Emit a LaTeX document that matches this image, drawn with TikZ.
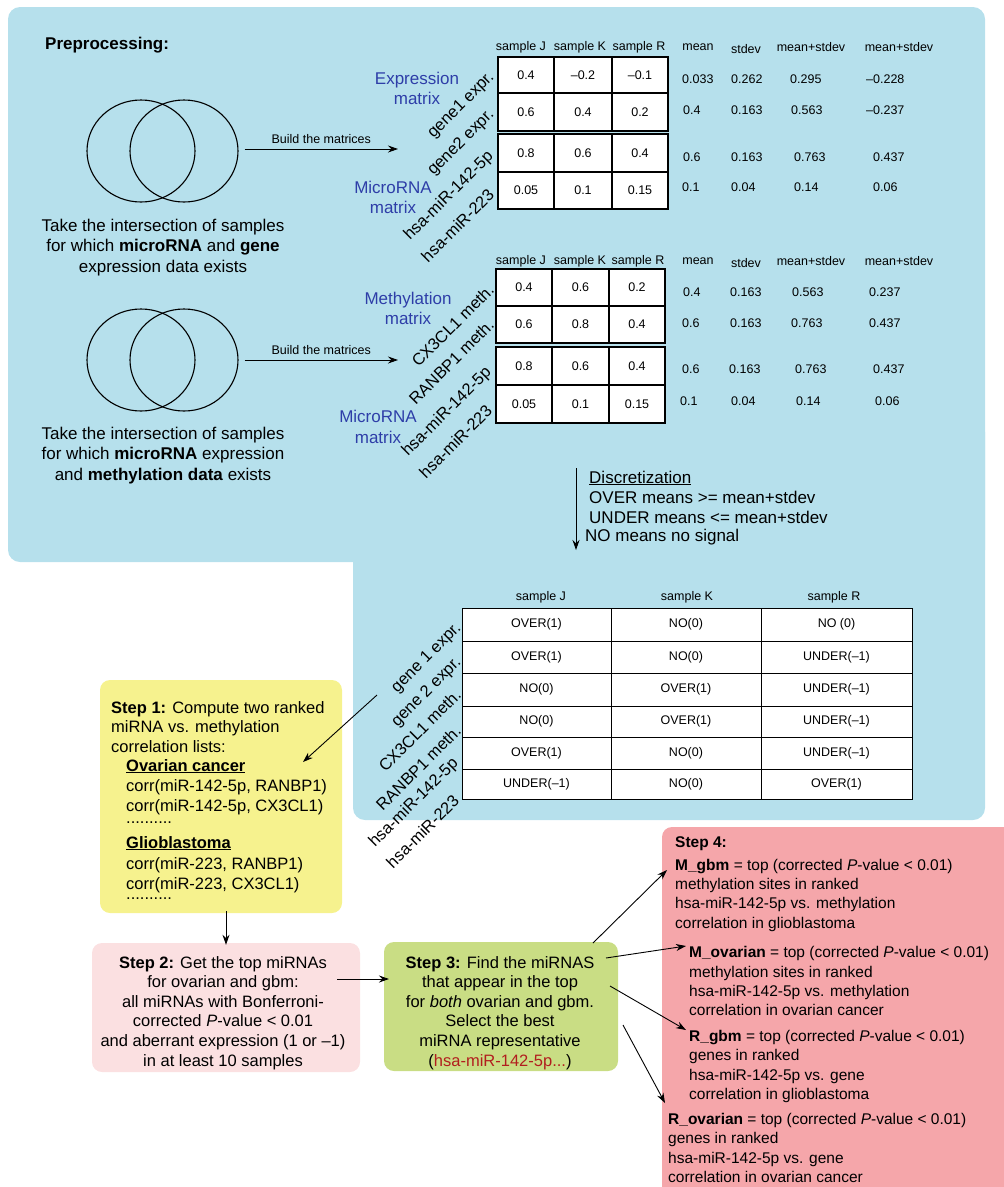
\documentclass[tikz,border=0pt]{standalone}
\usepackage{fontspec}
\setmainfont{Liberation Sans}
\usetikzlibrary{arrows.meta,shapes.geometric}
\definecolor{bgblue}{RGB}{182,224,236}
\definecolor{s1yellow}{RGB}{246,242,142}
\definecolor{s2pink}{RGB}{251,224,225}
\definecolor{s3green}{RGB}{201,221,132}
\definecolor{s4pink}{RGB}{245,166,170}
\definecolor{lblblue}{RGB}{46,62,168}
\definecolor{redtxt}{RGB}{178,30,30}
\newcommand\setcols[4]{\def\xa{#1}\def\xb{#2}\def\xc{#3}\def\xd{#4}}
\newcommand\mrow[7]{%
  \filldraw[fill=white,line width=#7] (\xa,#2) rectangle (\xb,#3) (\xb,#2) rectangle (\xc,#3) (\xc,#2) rectangle (\xd,#3);
  \node[cellt] (#1a) at ({(\xa+\xb)/2},{(#2+#3)/2}) {#4};
  \node[cellt] (#1b) at ({(\xb+\xc)/2},{(#2+#3)/2}) {#5};
  \node[cellt] (#1c) at ({(\xc+\xd)/2},{(#2+#3)/2}) {#6};}
\newcommand\st[4]{\node[cellt,anchor=west] (#1) at (#2,#3) {#4};}
\begin{document}
\begin{tikzpicture}[x=1pt,y=-1pt,
  arr/.style={-{Stealth[length=10pt,width=7pt]},line width=0.9pt},
  venn/.style={draw,ellipse,line width=1.1pt,minimum width=108pt,minimum height=102pt,inner sep=0pt},
  big/.style={inner sep=0pt,font=\fontsize{17pt}{20.5pt}\selectfont},
  mid/.style={inner sep=0pt,font=\fontsize{16.5pt}{19.6pt}\selectfont},
  sfour/.style={inner sep=0pt,anchor=base west,font=\fontsize{15.5pt}{19.5pt}\selectfont},
  cellt/.style={inner sep=0pt,font=\fontsize{12.5pt}{15pt}\selectfont},
  rot/.style={inner sep=0pt,rotate=45,anchor=east,font=\fontsize{16.5pt}{19pt}\selectfont},
  bl/.style={big,text=lblblue,align=center},
  sbox/.style={rounded corners=10pt,inner sep=0pt}]
\useasboundingbox (0,0) rectangle (1004,1187);
% backgrounds
\fill[bgblue,rounded corners=12pt] (8,7) rectangle (985,562);
\fill[bgblue,rounded corners=12pt] (353,420) rectangle (985,820);
\fill[s4pink,rounded corners=10pt] (662,827) rectangle (1020,1200);

\node[inner sep=0pt,anchor=west,font=\bfseries\fontsize{17pt}{20pt}\selectfont] (pre) at (45,45) {Preprocessing:};

% Venn 1
\node[venn] (v1a) at (141,151) {};
\node[venn] (v1b) at (184,151) {};
\coordinate (m1in) at (398,149);
\draw[arr] ([shift={(6,-2)}]v1b.east) -- (m1in) node[midway,above=5pt,cellt] (b1) {Build the matrices};
\node[big,align=center] (t1) at (163,247.5) {Take the intersection of samples\\for which \textbf{microRNA} and \textbf{gene}\\expression data exists};

% Venn 2
\node[venn] (v2a) at (141,360) {};
\node[venn] (v2b) at (184,360) {};
\coordinate (m2in) at (398,360);
\draw[arr] ([shift={(6,0)}]v2b.east) -- (m2in) node[midway,above=5pt,cellt] (b2) {Build the matrices};
\node[big,align=center] (t2) at (163,455.5) {Take the intersection of samples\\for which \textbf{microRNA} expression\\and \textbf{methylation data} exists};

% blue labels
\node[bl] (lbe) at (417,88.5) {Expression\\matrix};
\node[bl] (lbm1) at (393,197.5) {MicroRNA\\matrix};
\node[bl] (lbme) at (408,308.5) {Methylation\\matrix};
\node[bl] (lbm2) at (378,427) {MicroRNA\\matrix};

% matrix 1
\setcols{498}{554}{612}{668}
\mrow{ma1}{57}{93}{0.4}{\textendash0.2}{\textendash0.1}{1.3pt}
\mrow{ma2}{93}{131}{0.6}{0.4}{0.2}{1.3pt}
\mrow{ma3}{134}{172}{0.8}{0.6}{0.4}{1.3pt}
\mrow{ma4}{172}{209}{0.05}{0.1}{0.15}{1.3pt}
\node[cellt] (h1a) at (521,47) {sample J};
\node[cellt] (h1b) at (580,47) {sample K};
\node[cellt] (h1c) at (639,47) {sample R};
\node[cellt] (h1d) at (698,47) {mean};
\node[cellt] (h1e) at (746,49) {stdev};
\node[cellt] (h1f) at (811,47) {mean+stdev};
\node[cellt] (h1g) at (899,47) {mean+stdev};
\st{s11}{682}{79}{0.033}\st{s12}{731}{79}{0.262}\st{s13}{790}{79}{0.295}\st{s14}{866}{79}{\textendash0.228}
\st{s21}{683}{110}{0.4}\st{s22}{731}{110}{0.163}\st{s23}{791}{110}{0.563}\st{s24}{866}{110}{\textendash0.237}
\st{s31}{683}{157}{0.6}\st{s32}{731}{157}{0.163}\st{s33}{794}{157}{0.763}\st{s34}{873}{157}{0.437}
\st{s41}{682}{187}{0.1}\st{s42}{731}{187}{0.04}\st{s43}{794}{187}{0.14}\st{s44}{873}{187}{0.06}
\node[rot] (r1a) at (492,75) {gene1 expr.};
\node[rot] (r1b) at (492,112) {gene2 expr.};
\node[rot] (r1c) at (491,154) {hsa-miR-142-5p};
\node[rot] (r1d) at (491,192) {hsa-miR-223};

% matrix 2
\setcols{496}{552}{609}{665}
\mrow{mb1}{269}{306}{0.4}{0.6}{0.2}{1.3pt}
\mrow{mb2}{306}{343}{0.6}{0.8}{0.4}{1.3pt}
\mrow{mb3}{347}{385}{0.8}{0.6}{0.4}{1.3pt}
\mrow{mb4}{385}{423}{0.05}{0.1}{0.15}{1.3pt}
\node[cellt] (h2a) at (521,261) {sample J};
\node[cellt] (h2b) at (580,261) {sample K};
\node[cellt] (h2c) at (638,261) {sample R};
\node[cellt] (h2d) at (698,261) {mean};
\node[cellt] (h2e) at (746,263) {stdev};
\node[cellt] (h2f) at (811,261) {mean+stdev};
\node[cellt] (h2g) at (899,261) {mean+stdev};
\st{u11}{683}{292}{0.4}\st{u12}{730}{292}{0.163}\st{u13}{792}{292}{0.563}\st{u14}{869}{292}{0.237}
\st{u21}{682}{323}{0.6}\st{u22}{730}{323}{0.163}\st{u23}{791}{323}{0.763}\st{u24}{869}{323}{0.437}
\st{u31}{682}{369}{0.6}\st{u32}{729}{369}{0.163}\st{u33}{795}{369}{0.763}\st{u34}{873}{369}{0.437}
\st{u41}{680}{401}{0.1}\st{u42}{731}{401}{0.04}\st{u43}{796}{401}{0.14}\st{u44}{875}{401}{0.06}
\node[rot] (r2a) at (491,287) {CX3CL1 meth.};
\node[rot] (r2b) at (491,322) {RANBP1 meth.};
\node[rot] (r2c) at (489,370) {hsa-miR-142-5p};
\node[rot] (r2d) at (489,408) {hsa-miR-223};

% discretization
\coordinate (ds) at (576,468);
\coordinate (de) at (576,550);
\draw[arr] (ds) -- (de);
\node[big,anchor=west] (d1) at (589,478) {\underline{Discretization}};
\node[big,anchor=west] (d2) at (589,497) {OVER means >= mean+stdev};
\node[big,anchor=west] (d3) at (589,517) {UNDER means <= mean+stdev};
\node[big,anchor=west] (d4) at (585,537) {NO means no signal};

% discretized table
\setcols{462}{611}{761}{912}
\node[cellt] (h3a) at (541,597) {sample J};
\node[cellt] (h3b) at (687,597) {sample K};
\node[cellt] (h3c) at (834,597) {sample R};
\mrow{tc1}{608}{641}{OVER(1)}{NO(0)}{NO (0)}{1pt}
\mrow{tc2}{641}{673}{OVER(1)}{NO(0)}{UNDER(\textendash1)}{1pt}
\mrow{tc3}{673}{706}{NO(0)}{OVER(1)}{UNDER(\textendash1)}{1pt}
\mrow{tc4}{706}{737}{NO(0)}{OVER(1)}{UNDER(\textendash1)}{1pt}
\mrow{tc5}{737}{769}{OVER(1)}{NO(0)}{UNDER(\textendash1)}{1pt}
\mrow{tc6}{769}{799}{UNDER(\textendash1)}{NO(0)}{OVER(1)}{1pt}
\node[rot] (r3a) at (459,626) {gene 1 expr.};
\node[rot] (r3b) at (459,660) {gene 2 expr.};
\node[rot] (r3c) at (458,692) {CX3CL1 meth.};
\node[rot] (r3d) at (458,728) {RANBP1 meth.};
\node[rot] (r3e) at (456,761) {hsa-miR-142-5p};
\node[rot] (r3f) at (456,798) {hsa-miR-223};

% Step 1
\node[sbox,fill=s1yellow,minimum width=242pt,minimum height=233pt] (s1) at (221,796.5) {};
\node[mid,anchor=base west] (s1l1) at (111,713) {\textbf{Step 1:} Compute two ranked};
\node[mid,anchor=base west] (s1l2) at (111,732) {miRNA vs. methylation};
\node[mid,anchor=base west] (s1l3) at (111,752) {correlation lists:};
\node[mid,anchor=base west] (s1l4) at (126,771) {\underline{\textbf{Ovarian cancer}}};
\node[mid,anchor=base west] (s1l5) at (126,791) {corr(miR-142-5p, RANBP1)};
\node[mid,anchor=base west] (s1l6) at (126,811) {corr(miR-142-5p, CX3CL1)};
\node[mid,anchor=base west] (s1l7) at (126,823) {..........};
\node[mid,anchor=base west] (s1l8) at (126,848) {\underline{\textbf{Glioblastoma}}};
\node[mid,anchor=base west] (s1l9) at (126,869) {corr(miR-223, RANBP1)};
\node[mid,anchor=base west] (s1l10) at (126,889) {corr(miR-223, CX3CL1)};
\node[mid,anchor=base west] (s1l11) at (126,899) {..........};
\coordinate (g1s) at (377,695);
\coordinate (g1e) at (303,762);
\draw[arr] (g1s) -- (g1e);

% Step 2
\node[sbox,fill=s2pink,minimum width=268pt,minimum height=129pt] (s2) at (226,1007.5) {};
\node[mid,align=center,anchor=base] (s2t) at (223,1066) {\textbf{Step 2:} Get the top miRNAs\\for ovarian and gbm:\\all miRNAs with Bonferroni-\\corrected \textit{P}-value < 0.01\\and aberrant expression (1 or \textendash1)\\in at least 10 samples};
\draw[arr] ([yshift=2pt]s1.south -| s2.north) -- ([yshift=-2pt]s2.north);

% Step 3
\node[sbox,fill=s3green,minimum width=234pt,minimum height=129pt] (s3) at (501,1006.5) {};
\node[mid,align=center,anchor=base] (s3t) at (500,1066) {\textbf{Step 3:} Find the miRNAS\\that appear in the top\\for \textit{both} ovarian and gbm.\\Select the best\\miRNA representative\\(\textcolor{redtxt}{hsa-miR-142-5p...})};
\coordinate (a23s) at (337,979);
\coordinate (a23e) at (389,979);
\draw[arr] (a23s) -- (a23e);

% Step 4
\node[sfour] (s4h) at (675,847) {\textbf{Step 4:}};
\node[sfour] (s4a1) at (675,870) {\textbf{M\_gbm} = top (corrected \textit{P}-value < 0.01)};
\node[sfour] (s4a2) at (675,889) {methylation sites in ranked};
\node[sfour] (s4a3) at (675,908) {hsa-miR-142-5p vs. methylation};
\node[sfour] (s4a4) at (675,928) {correlation in glioblastoma};
\node[sfour] (s4b1) at (689,957) {\textbf{M\_ovarian} = top (corrected \textit{P}-value < 0.01)};
\node[sfour] (s4b2) at (689,977) {methylation sites in ranked};
\node[sfour] (s4b3) at (689,996) {hsa-miR-142-5p vs. methylation};
\node[sfour] (s4b4) at (689,1015) {correlation in ovarian cancer};
\node[sfour] (s4c1) at (689,1041) {\textbf{R\_gbm} = top (corrected \textit{P}-value < 0.01)};
\node[sfour] (s4c2) at (689,1060) {genes in ranked};
\node[sfour] (s4c3) at (689,1080) {hsa-miR-142-5p vs. gene};
\node[sfour] (s4c4) at (689,1099) {correlation in glioblastoma};
\node[sfour] (s4d1) at (668,1124) {\textbf{R\_ovarian} = top (corrected \textit{P}-value < 0.01)};
\node[sfour] (s4d2) at (668,1143) {genes in ranked};
\node[sfour] (s4d3) at (668,1163) {hsa-miR-142-5p vs. gene};
\node[sfour] (s4d4) at (668,1182) {correlation in ovarian cancer};

\coordinate (q1s) at (593,943);  \coordinate (q1e) at (667,870);
\coordinate (q2s) at (606,958);  \coordinate (q2e) at (686,946);
\coordinate (q3s) at (610,986);  \coordinate (q3e) at (686,1030);
\coordinate (q4s) at (623,1025); \coordinate (q4e) at (665,1103);
\draw[arr] (q1s) -- (q1e);
\draw[arr] (q2s) -- (q2e);
\draw[arr] (q3s) -- (q3e);
\draw[arr] (q4s) -- (q4e);
\end{tikzpicture}
\end{document}
